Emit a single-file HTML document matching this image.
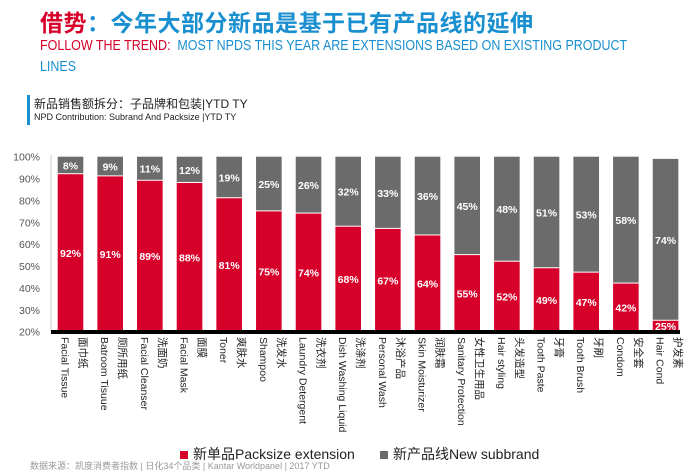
<!DOCTYPE html>
<html><head><meta charset="utf-8">
<style>
body{margin:0;width:700px;height:464px;overflow:hidden;background:#fff;font-family:"Liberation Sans","Noto Sans CJK SC",sans-serif;position:relative}
.abs{position:absolute;white-space:nowrap}
</style></head>
<body>
<div class="abs" style="left:40px;top:4px;font-size:23px;font-weight:bold;color:#1a8fd0;letter-spacing:0.5px"><span style="color:#d6002a">借势</span>：今年大部分新品是基于已有产品线的延伸</div>
<div class="abs" style="left:40px;top:36px;font-size:14.5px;color:#1a8fd0;line-height:21px;transform:scaleX(0.86);transform-origin:left"><span style="color:#d6002a">FOLLOW THE TREND:</span>&nbsp; MOST NPDS THIS YEAR ARE EXTENSIONS BASED ON EXISTING PRODUCT<br>LINES</div>
<div class="abs" style="left:27px;top:95px;width:3px;height:30px;background:#1a8fd0"></div>
<div class="abs" style="left:34px;top:95px;font-size:12px;color:#222">新品销售额拆分：子品牌和包装|YTD TY</div>
<div class="abs" style="left:34px;top:112px;font-size:9px;color:#222">NPD Contribution: Subrand And Packsize |YTD TY</div>
<svg id="chart" class="abs" style="left:0;top:0" width="700" height="464"></svg>
<div class="abs" style="left:180px;top:444px;font-size:14px;color:#222"><span style="display:inline-block;width:8px;height:8px;background:#d6002a;margin-right:5px"></span>新单品Packsize extension</div>
<div class="abs" style="left:380px;top:444px;font-size:14px;color:#222"><span style="display:inline-block;width:8px;height:8px;background:#6b6b6b;margin-right:5px"></span>新产品线New subbrand</div>
<div class="abs" style="left:30px;top:459px;font-size:9px;color:#999">数据来源：凯度消费者指数 | 日化34个品类 | Kantar Worldpanel | 2017 YTD</div>
<script>
const categoriesEn=["Facial Tissue","Batroom Tisuue","Facial Cleanser","Facial Mask","Toner","Shampoo","Laundry Detergent","Dish Washing Liquid","Personal Wash","Skin Moisturizer","Sanitary Protection","Hair styling","Tooth Paste","Tooth Brush","Condom","Hair Cond"];
const categoriesCn=["面巾纸","厕所用纸","洗面奶","面膜","爽肤水","洗发水","洗衣剂","洗涤剂","沐浴产品","润肤霜","女性卫生用品","头发造型","牙膏","牙刷","安全套","护发素"];
const packsize=[92,91,89,88,81,75,74,68,67,64,55,52,49,47,42,25];
const subbrand=[8,9,11,12,19,25,26,32,33,36,45,48,51,53,58,74];
const yTicks=[20,30,40,50,60,70,80,90,100];
const NS="http://www.w3.org/2000/svg";
const svg=document.getElementById('chart');
const y=v=>331.7-(v-20)*(175/80);
const x0=57.7,pitch=39.67,bw=25.6;
const xb=i=>x0+i*pitch;
function mk(t,a){const e=document.createElementNS(NS,t);for(const k in a)e.setAttribute(k,a[k]);svg.appendChild(e);return e;}
yTicks.forEach(t=>{const e=mk('text',{x:40,y:y(t)+4,'text-anchor':'end','font-size':10.5,fill:'#555'});e.textContent=t+'%';

});
const ax=mk('line',{x1:51,x2:51,y1:155,y2:331,stroke:'#ccc','stroke-width':1});


packsize.forEach((v,i)=>{
 const top=Math.min(v,100);
 const r=mk('rect',{x:xb(i),y:y(top),width:bw,height:y(20)-y(top),fill:'#d6002a'});
 
 
 const g=subbrand[i];
 const gt=v+g;
 const gr=mk('rect',{x:xb(i),y:y(gt),width:bw,height:y(v)-y(gt)-1,fill:'#6b6b6b'});
 
 
 const t1=mk('text',{x:xb(i)+bw/2,y:(v>20?(y(v)+y(20))/2:y(20)-3)+4,'text-anchor':'middle','font-size':10.5,'font-weight':'bold',fill:'#fff'});
 t1.textContent=v+'%';
 
 
 const t2=mk('text',{x:xb(i)+bw/2,y:(y(gt)+y(v))/2+4,'text-anchor':'middle','font-size':10.5,'font-weight':'bold',fill:'#fff'});
 t2.textContent=g+'%';
 
 
 const cx=xb(i)+bw/2;
 const en=mk('text',{x:0,y:0,'font-size':10.5,fill:'#222',transform:`translate(${cx-9},337) rotate(90)`});
 en.textContent=categoriesEn[i];
 
 
 const cn=mk('text',{x:0,y:0,'font-size':10.5,fill:'#222',transform:`translate(${cx+9},337) rotate(90)`});
 cn.textContent=categoriesCn[i];
 
 
});
const base=mk('rect',{x:51,y:330,width:629,height:4,fill:'#000'});


</script>
</body></html>
